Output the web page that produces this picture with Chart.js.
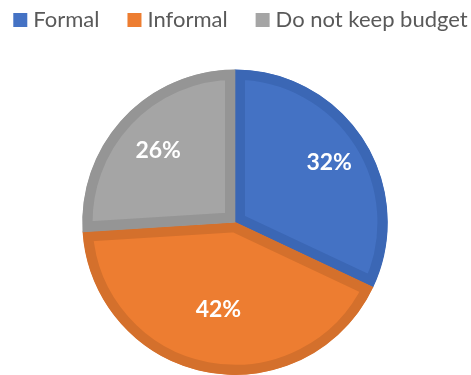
<!DOCTYPE html>
<html>
<head>
<meta charset="utf-8">
<script src="https://cdn.jsdelivr.net/npm/chart.js@4/dist/chart.umd.min.js"></script>
<style>
  html, body { margin: 0; padding: 0; background: #ffffff; }
  #wrap { width: 471px; height: 375px; position: relative; }
</style>
</head>
<body>
<div id="wrap"><canvas id="pie"></canvas></div>
<script>
// Budget-keeping practice, share of respondents (%)
const categories = ['Formal', 'Informal', 'Do not keep budget'];
const shares = [32, 42, 26];

// Slice styling
const fillColors = ['#4472C4', '#ED7D31', '#A5A5A5'];
const edgeColors = ['#3B67B5', '#D4702C', '#959595'];
const labelRadius = [0.73, 0.58, 0.69];   // label distance as fraction of radius
const FONT = 'Lato, "Open Sans", "Liberation Sans", sans-serif';

// Legend row drawn across the top of the canvas
const topLegend = {
  id: 'topLegend',
  afterDraw(chart) {
    const ctx = chart.ctx;
    const ds = chart.data.datasets[0];
    const box = 14, gapText = 6, gapItem = 28;
    ctx.save();
    ctx.font = '22px ' + FONT;
    const widths = chart.data.labels.map(t => ctx.measureText(t).width);
    const total = widths.reduce((s, w) => s + box + gapText + w, 0) + gapItem * (widths.length - 1);
    let x = (chart.width - total) / 2 + 5;
    const cy = 20;
    chart.data.labels.forEach((t, i) => {
      ctx.fillStyle = ds.backgroundColor[i];
      ctx.fillRect(x, cy - box / 2, box, box);
      x += box + gapText;
      ctx.fillStyle = '#595959';
      ctx.textBaseline = 'middle';
      ctx.textAlign = 'left';
      ctx.fillText(t, x, cy);
      x += widths[i] + gapItem;
    });
    ctx.restore();
  }
};

// Percentage labels inside each slice
const sliceLabels = {
  id: 'sliceLabels',
  afterDatasetsDraw(chart) {
    const ctx = chart.ctx;
    const meta = chart.getDatasetMeta(0);
    const values = chart.data.datasets[0].data;
    ctx.save();
    ctx.font = 'bold 23px ' + FONT;
    ctx.fillStyle = '#ffffff';
    ctx.textAlign = 'center';
    ctx.textBaseline = 'middle';
    meta.data.forEach((arc, i) => {
      const p = arc.getProps(['x', 'y', 'startAngle', 'endAngle', 'outerRadius'], true);
      const mid = (p.startAngle + p.endAngle) / 2;
      const r = p.outerRadius * labelRadius[i];
      ctx.fillText(values[i] + '%', p.x + Math.cos(mid) * r, p.y + Math.sin(mid) * r);
    });
    ctx.restore();
  }
};

new Chart(document.getElementById('pie'), {
  type: 'pie',
  data: {
    labels: categories,
    datasets: [{
      data: shares,
      backgroundColor: fillColors,
      borderColor: edgeColors,
      borderWidth: 10,
      borderAlign: 'inner',
      borderJoinStyle: 'miter',
      hoverOffset: 0,
      offset: 0
    }]
  },
  options: {
    responsive: true,
    maintainAspectRatio: false,
    animation: false,
    layout: { padding: { top: 69.5, bottom: -2.5, left: 0, right: 1 } },
    plugins: {
      legend: { display: false },
      tooltip: { enabled: false }
    }
  },
  plugins: [topLegend, sliceLabels]
});
</script>
</body>
</html>
